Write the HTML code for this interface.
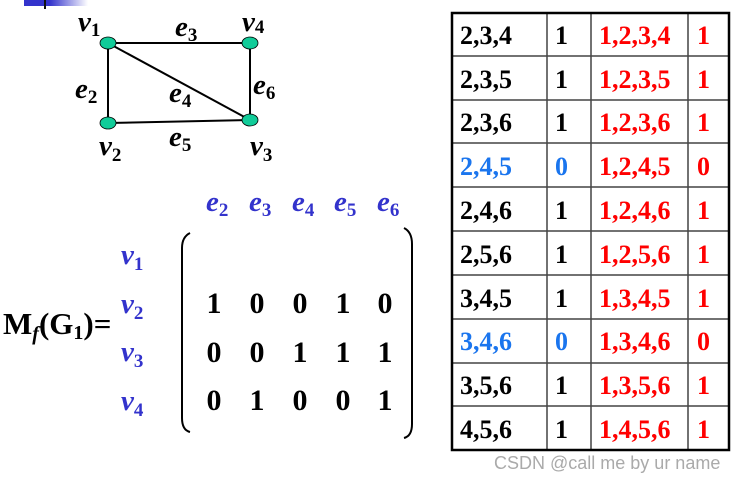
<!DOCTYPE html>
<html><head><meta charset="utf-8"><style>
body{margin:0;background:#fff;}
svg{display:block;font-family:"Liberation Serif",serif;font-weight:bold;}
.i{font-style:italic}
.s{font-size:19px;font-style:normal}
.b{fill:#3333cc}
</style></head><body>
<svg width="747" height="481" viewBox="0 0 747 481" xmlns="http://www.w3.org/2000/svg">
<defs><linearGradient id="g" x1="0" x2="1"><stop offset="0" stop-color="#3333cc"/><stop offset="0.4" stop-color="#3333cc"/><stop offset="1" stop-color="#fff"/></linearGradient></defs>
<rect x="24" y="0" width="64" height="6" fill="url(#g)"/>
<rect x="44" y="0" width="2" height="9" fill="#111"/>
<g stroke="#000" stroke-width="2">
<line x1="108" y1="43" x2="250" y2="43"/>
<line x1="108" y1="43" x2="108" y2="123"/>
<line x1="250" y1="43" x2="250" y2="120"/>
<line x1="108" y1="123" x2="250" y2="120"/>
<line x1="108" y1="43" x2="250" y2="120"/>
</g>
<g fill="#11cc99" stroke="#000" stroke-width="0.8">
<ellipse cx="108" cy="43" rx="8" ry="6"/><ellipse cx="250" cy="43" rx="8" ry="6"/>
<ellipse cx="108" cy="123" rx="8" ry="6"/><ellipse cx="250" cy="120" rx="8" ry="6"/>
</g>
<g font-size="29" class="i">
<text x="78" y="31">v<tspan class="s" dy="5">1</tspan></text>
<text x="175" y="36">e<tspan class="s" dy="5">3</tspan></text>
<text x="242" y="31">v<tspan class="s" dy="2">4</tspan></text>
<text x="75" y="98">e<tspan class="s" dy="5">2</tspan></text>
<text x="169" y="102">e<tspan class="s" dy="5">4</tspan></text>
<text x="253" y="94">e<tspan class="s" dy="5">6</tspan></text>
<text x="99" y="155">v<tspan class="s" dy="6">2</tspan></text>
<text x="169" y="146">e<tspan class="s" dy="5">5</tspan></text>
<text x="250" y="155">v<tspan class="s" dy="6">3</tspan></text>
</g>
<g font-size="29" class="i b">
<text x="206" y="211">e<tspan class="s" dy="5">2</tspan></text>
<text x="249" y="211">e<tspan class="s" dy="5">3</tspan></text>
<text x="292" y="211">e<tspan class="s" dy="5">4</tspan></text>
<text x="334" y="211">e<tspan class="s" dy="5">5</tspan></text>
<text x="377" y="211">e<tspan class="s" dy="5">6</tspan></text>
<text x="121" y="264">v<tspan class="s" dy="6">1</tspan></text>
<text x="121" y="313">v<tspan class="s" dy="6">2</tspan></text>
<text x="121" y="361">v<tspan class="s" dy="6">3</tspan></text>
<text x="121" y="410">v<tspan class="s" dy="6">4</tspan></text>
</g>
<text x="3" y="334" font-size="31">M<tspan class="i" font-size="20" dy="6">f</tspan><tspan dy="-6">(G</tspan><tspan font-size="20" dy="5">1</tspan><tspan dy="-5">)=</tspan></text>
<path d="M190 233 Q182 237 182 248 L182 418 Q182 430 190 432" fill="none" stroke="#000" stroke-width="2"/>
<path d="M404 228 Q412 232 412 244 L412 424 Q412 436 404 438" fill="none" stroke="#000" stroke-width="2"/>
<g font-size="30" text-anchor="middle">
<text x="214" y="313">1</text><text x="257" y="313">0</text><text x="300" y="313">0</text><text x="343" y="313">1</text><text x="385" y="313">0</text>
<text x="214" y="362">0</text><text x="257" y="362">0</text><text x="300" y="362">1</text><text x="343" y="362">1</text><text x="385" y="362">1</text>
<text x="214" y="410">0</text><text x="257" y="410">1</text><text x="300" y="410">0</text><text x="343" y="410">0</text><text x="385" y="410">1</text>
</g>
<g stroke="#444" stroke-width="1.5">
<line x1="547" y1="13" x2="547" y2="450"/><line x1="591" y1="13" x2="591" y2="450"/><line x1="688" y1="13" x2="688" y2="450"/>
<line x1="452" y1="56" x2="729" y2="56"/><line x1="452" y1="100" x2="729" y2="100"/><line x1="452" y1="143" x2="729" y2="143"/>
<line x1="452" y1="187" x2="729" y2="187"/><line x1="452" y1="231" x2="729" y2="231"/><line x1="452" y1="275" x2="729" y2="275"/>
<line x1="452" y1="319" x2="729" y2="319"/><line x1="452" y1="363" x2="729" y2="363"/><line x1="452" y1="406" x2="729" y2="406"/>
</g>
<rect x="452" y="13" width="277" height="437" fill="none" stroke="#000" stroke-width="2.5"/>
<g font-size="26">
<g fill="#000">
<text x="460" y="44">2,3,4</text><text x="555" y="44">1</text>
<text x="460" y="88">2,3,5</text><text x="555" y="88">1</text>
<text x="460" y="131">2,3,6</text><text x="555" y="131">1</text>
<text x="460" y="219">2,4,6</text><text x="555" y="219">1</text>
<text x="460" y="263">2,5,6</text><text x="555" y="263">1</text>
<text x="460" y="307">3,4,5</text><text x="555" y="307">1</text>
<text x="460" y="394">3,5,6</text><text x="555" y="394">1</text>
<text x="460" y="438">4,5,6</text><text x="555" y="438">1</text>
</g>
<g fill="#1a75ee">
<text x="460" y="175">2,4,5</text><text x="555" y="175">0</text>
<text x="460" y="350">3,4,6</text><text x="555" y="350">0</text>
</g>
<g fill="#ff0000">
<text x="599" y="44">1,2,3,4</text><text x="697" y="44">1</text>
<text x="599" y="88">1,2,3,5</text><text x="697" y="88">1</text>
<text x="599" y="131">1,2,3,6</text><text x="697" y="131">1</text>
<text x="599" y="175">1,2,4,5</text><text x="697" y="175">0</text>
<text x="599" y="219">1,2,4,6</text><text x="697" y="219">1</text>
<text x="599" y="263">1,2,5,6</text><text x="697" y="263">1</text>
<text x="599" y="307">1,3,4,5</text><text x="697" y="307">1</text>
<text x="599" y="350">1,3,4,6</text><text x="697" y="350">0</text>
<text x="599" y="394">1,3,5,6</text><text x="697" y="394">1</text>
<text x="599" y="438">1,4,5,6</text><text x="697" y="438">1</text>
</g>
</g>
<text x="494" y="469" font-family="Liberation Sans,sans-serif" font-weight="normal" font-size="18" fill="#aaa">CSDN @call me by ur name</text>
</svg>
</body></html>
